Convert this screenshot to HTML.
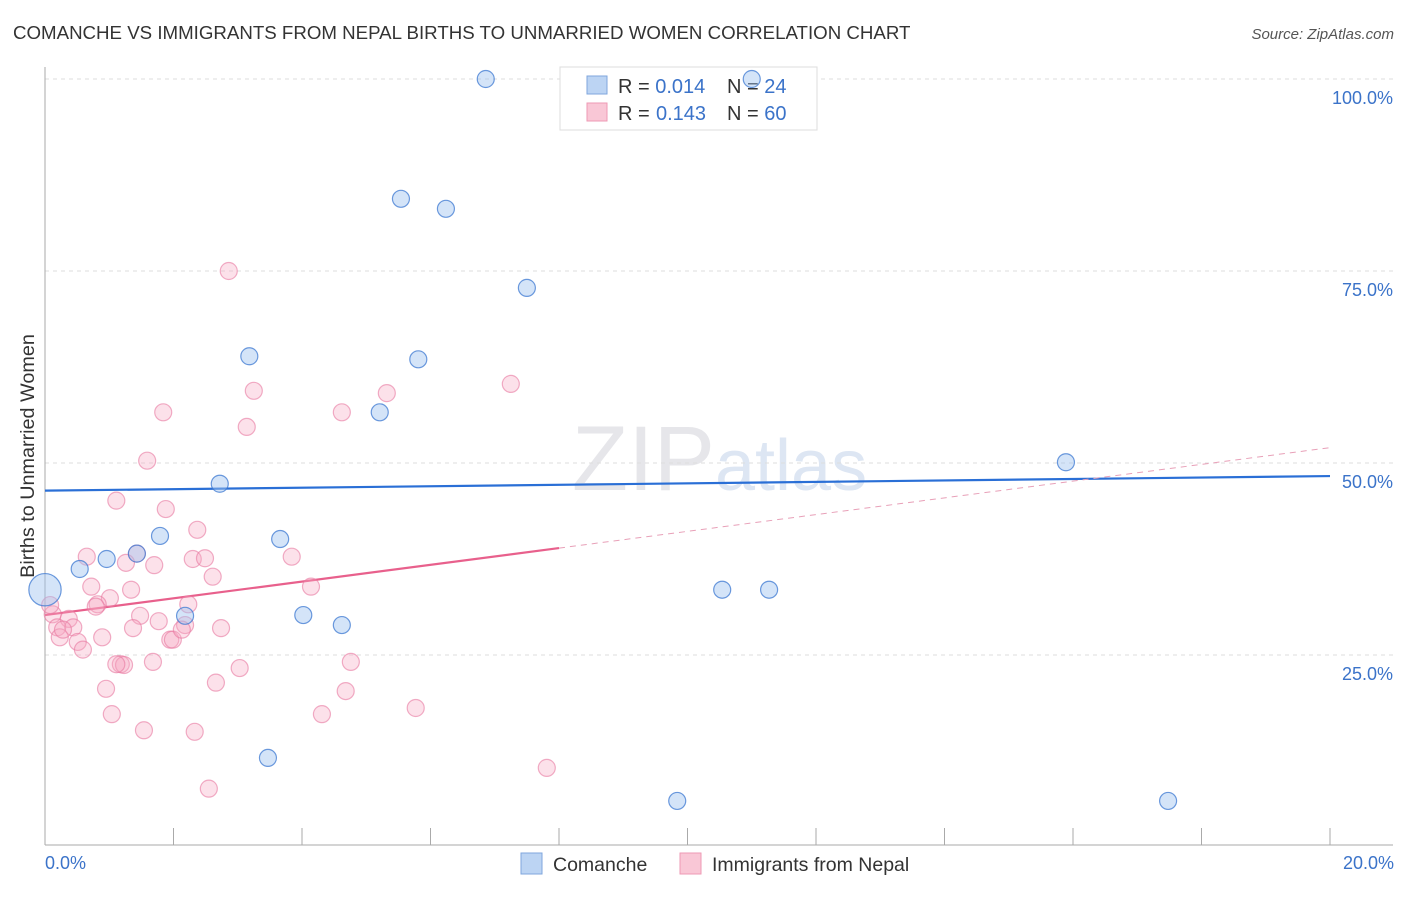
<!DOCTYPE html>
<html><head><meta charset="utf-8"><style>
body{margin:0;background:#fff;font-family:"Liberation Sans",sans-serif}
svg text{font-family:"Liberation Sans",sans-serif}
</style></head><body>
<svg id="chart" width="1406" height="892" xmlns="http://www.w3.org/2000/svg">
<text x="13" y="39" font-size="18.7" fill="#333">COMANCHE VS IMMIGRANTS FROM NEPAL BIRTHS TO UNMARRIED WOMEN CORRELATION CHART</text>
<text x="1394" y="39" font-size="15" fill="#555" font-style="italic" text-anchor="end">Source: ZipAtlas.com</text>
<text x="715" y="490" font-size="92" fill="#e6e6ea" text-anchor="end" font-family="Liberation Serif">ZIP</text>
<text x="715" y="490" font-size="72" fill="#dde6f3">atlas</text>
<g id="grid"></g><g id="axes"></g><g id="lines"></g>
<g>
<rect x="560" y="67" width="257" height="63" fill="#fff" stroke="#ddd"/>
<rect x="587" y="76" width="20" height="18" fill="#bcd4f3" stroke="#7fa6dc"/>
<rect x="587" y="103" width="20" height="18" fill="#f9c7d6" stroke="#ee9ab4"/>
<text x="618" y="93" font-size="20" fill="#333">R = <tspan fill="#3b73c9">0.014</tspan><tspan x="727">N = </tspan><tspan fill="#3b73c9">24</tspan></text>
<text x="618" y="120" font-size="20" fill="#333">R = <tspan fill="#3b73c9" x="656">0.143</tspan><tspan x="727">N = </tspan><tspan fill="#3b73c9">60</tspan></text>
</g>
<g id="dots"></g>
<text transform="translate(34,456) rotate(-90)" font-size="19.8" fill="#333" text-anchor="middle">Births to Unmarried Women</text>
<text x="45" y="869" font-size="18" fill="#3b73c9">0.0%</text>
<text x="1394" y="869" font-size="18" fill="#3b73c9" text-anchor="end">20.0%</text>
<g>
<rect x="521" y="853" width="21" height="21" fill="#bcd4f3" stroke="#7fa6dc"/>
<text x="553" y="871" font-size="19.5" fill="#333">Comanche</text>
<rect x="680" y="853" width="21" height="21" fill="#f9c7d6" stroke="#ee9ab4"/>
<text x="712" y="871" font-size="19.5" fill="#333">Immigrants from Nepal</text>
</g>
</svg>
<script>
const yTicks=[25,50,75,100];
const yTickLabels=["25.0%","50.0%","75.0%","100.0%"];
const xTicks=[0,2,4,6,8,10,12,14,16,18,20];
const blueX=[6.86,11.00,5.54,6.24,7.50,3.18,5.81,5.21,15.89,2.72,1.79,3.66,0.96,1.43,0.54,0,10.54,11.27,2.18,4.02,4.62,3.47,9.84,17.48];
const blueY=[100,100,84.4,83.1,72.8,63.9,63.5,56.6,50.1,47.3,40.5,40.1,37.5,38.2,36.2,33.5,33.5,33.5,30.1,30.2,28.9,11.6,6.0,6.0];
const blueSize=[1,1,1,1,1,1,1,1,1,1,1,1,1,1,1,1.9,1,1,1,1,1,1,1,1];
const pinkX=[2.86,3.25,7.25,5.32,1.84,4.62,3.14,1.59,1.11,1.88,2.37,0.65,1.43,2.30,2.49,3.84,1.70,1.26,2.61,0.72,1.34,4.14,1.01,0.82,0.79,2.23,1.48,1.77,0.12,0.37,0.19,0.44,0.23,0.51,0.59,0.89,1.37,2.74,2.18,1.95,1.99,1.18,1.23,1.68,3.03,4.76,0.95,2.66,4.68,5.77,1.04,4.31,1.54,2.33,7.81,2.55,0.08,0.28,2.13,1.11];
const pinkY=[75.0,59.4,60.3,59.1,56.6,56.6,54.7,50.3,45.1,44.0,41.3,37.8,38.2,37.5,37.6,37.8,36.7,37.0,35.2,33.9,33.5,33.9,32.4,31.6,31.3,31.6,30.1,29.4,30.3,29.7,28.6,28.6,27.3,26.7,25.7,27.3,28.5,28.5,28.9,27.0,27.0,23.8,23.7,24.1,23.3,24.1,20.6,21.4,20.3,18.1,17.3,17.3,15.2,15.0,10.3,7.6,31.5,28.3,28.3,23.8];
const blueTrend=[46.4,48.3];
const pinkTrend=[30.2,1.09];
const NS="http://www.w3.org/2000/svg";
const X=v=>45+v/20*1285, Y=v=>847-v/100*768;
function mk(p,t,a){const e=document.createElementNS(NS,t);for(const k in a)e.setAttribute(k,a[k]);document.getElementById(p).appendChild(e);return e;}
yTicks.forEach((t,i)=>{
 const g=mk('grid','line',{x1:45,x2:1393,y1:Y(t),y2:Y(t),stroke:'#ddd','stroke-dasharray':'4,4'});
 
 
 const l=mk('grid','text',{x:1393,y:Y(t)+25,'font-size':18,fill:'#3b73c9','text-anchor':'end'});
 l.textContent=yTickLabels[i];
 
 
});
const ax=mk('axes','line',{x1:45,x2:45,y1:67,y2:845,stroke:'#aaa'});


const bx=mk('axes','line',{x1:45,x2:1393,y1:845,y2:845,stroke:'#aaa'});


xTicks.forEach(t=>{const e=mk('axes','line',{x1:X(t),x2:X(t),y1:828,y2:845,stroke:'#aaa'});
 
 });
const bl=mk('lines','line',{x1:X(0),y1:Y(blueTrend[0]),x2:X(20),y2:Y(blueTrend[1]),stroke:'#2a6fd6','stroke-width':2.2});


const pl=mk('lines','line',{x1:X(0),y1:Y(pinkTrend[0]),x2:X(8),y2:Y(pinkTrend[0]+8*pinkTrend[1]),stroke:'#e8608c','stroke-width':2.2});


const pd=mk('lines','line',{x1:X(8),y1:Y(pinkTrend[0]+8*pinkTrend[1]),x2:X(20),y2:Y(pinkTrend[0]+20*pinkTrend[1]),stroke:'#e8a0b8','stroke-width':1,'stroke-dasharray':'6,5'});


pinkX.forEach((x,i)=>{const c=mk('dots','circle',{cx:X(x),cy:Y(pinkY[i]),r:8.5,fill:'rgba(246,170,195,0.35)',stroke:'rgba(232,120,160,0.6)','stroke-width':1.2});
 
 });
blueX.forEach((x,i)=>{const c=mk('dots','circle',{cx:X(x),cy:Y(blueY[i]),r:8.5*blueSize[i],fill:'rgba(160,195,240,0.45)',stroke:'rgba(60,120,210,0.75)','stroke-width':1.2});
 
 });
</script>
</body></html>
